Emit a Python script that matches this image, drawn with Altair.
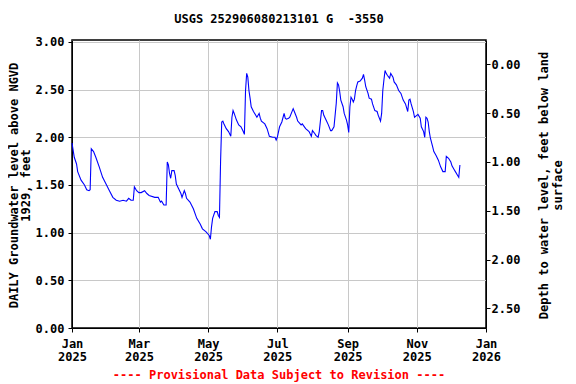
import altair as alt
import pandas as pd

# ---- data (days since 2025-01-01, level in feet) ----
days = [0, 2, 4, 5, 8, 11, 13, 15, 16, 17, 19, 21, 24, 27, 30, 33, 36, 39, 42, 45,
        48, 50, 52, 54, 55, 57, 59, 61, 64, 66, 68, 73, 76, 78, 79, 81, 83, 84, 85, 86,
        87, 88, 90, 91, 92, 94, 96, 97, 99, 100, 101, 104, 107, 110, 113, 115, 118, 121, 122, 123,
        124, 126, 128, 129, 130, 131, 132, 133, 134, 136, 138, 140, 141, 142, 143, 145, 147, 149, 151, 152,
        153, 154, 155, 156, 157, 158, 160, 162, 163, 165, 166, 167, 170, 172, 174, 177, 179, 180, 181, 183,
        185, 187, 188, 189, 191, 192, 195, 196, 198, 199, 202, 203, 206, 209, 211, 212, 214, 215, 217, 218,
        220, 221, 222, 224, 226, 228, 229, 231, 233, 234, 235, 236, 237, 239, 240, 242, 243, 244, 245, 246,
        247, 248, 249, 250, 251, 252, 254, 256, 257, 258, 259, 261, 262, 264, 265, 267, 269, 270, 272, 273,
        274, 275, 276, 277, 278, 280, 281, 283, 284, 286, 288, 290, 292, 294, 296, 297, 298, 299, 301, 302,
        304, 305, 307, 308, 310, 311, 312, 313, 314, 315, 316, 318, 319, 321, 323, 325, 327, 329, 330, 332,
        334, 335, 337, 338, 340, 341, 342]
levels = [1.94, 1.79, 1.72, 1.64, 1.55, 1.50, 1.45, 1.44, 1.45, 1.88, 1.85, 1.79, 1.69, 1.58, 1.51, 1.44, 1.37, 1.34, 1.33, 1.34,
          1.33, 1.36, 1.34, 1.34, 1.48, 1.44, 1.42, 1.42, 1.44, 1.41, 1.39, 1.37, 1.37, 1.32, 1.33, 1.29, 1.29, 1.74, 1.71, 1.62,
          1.57, 1.65, 1.65, 1.60, 1.51, 1.46, 1.41, 1.37, 1.44, 1.41, 1.36, 1.32, 1.25, 1.15, 1.09, 1.04, 1.01, 0.97, 0.93, 1.06,
          1.15, 1.22, 1.22, 1.18, 1.16, 1.75, 2.16, 2.17, 2.14, 2.09, 2.06, 2.01, 2.21, 2.28, 2.25, 2.18, 2.13, 2.11, 2.06, 2.03,
          2.49, 2.67, 2.63, 2.49, 2.41, 2.32, 2.27, 2.23, 2.21, 2.25, 2.20, 2.17, 2.14, 2.09, 2.01, 2.00, 2.00, 1.97, 2.00, 2.11,
          2.16, 2.25, 2.20, 2.19, 2.20, 2.21, 2.30, 2.27, 2.21, 2.17, 2.13, 2.14, 2.09, 2.06, 2.01, 2.07, 2.04, 2.02, 2.00, 2.06,
          2.28, 2.28, 2.23, 2.18, 2.13, 2.07, 2.07, 2.11, 2.36, 2.57, 2.55, 2.48, 2.39, 2.32, 2.25, 2.18, 2.13, 2.05, 2.32, 2.42,
          2.40, 2.37, 2.40, 2.49, 2.54, 2.58, 2.59, 2.62, 2.66, 2.60, 2.53, 2.46, 2.41, 2.40, 2.35, 2.28, 2.27, 2.23, 2.17, 2.25,
          2.49, 2.60, 2.70, 2.67, 2.65, 2.62, 2.67, 2.63, 2.58, 2.55, 2.49, 2.46, 2.39, 2.35, 2.27, 2.39, 2.40, 2.35, 2.27, 2.21,
          2.23, 2.24, 2.20, 2.11, 2.06, 2.00, 2.21, 2.20, 2.16, 2.06, 1.99, 1.90, 1.85, 1.81, 1.76, 1.69, 1.64, 1.64, 1.80, 1.78,
          1.74, 1.70, 1.66, 1.64, 1.60, 1.58, 1.71]

title_text = "USGS 252906080213101 G \u00a0-3550"
footer_text = "---- Provisional Data Subject to Revision ----"
left_title = ["DAILY Groundwater level above NGVD", "1929, feet"]
right_title = ["Depth to water level, feet below land", "surface"]
left_ticks = [0.0, 0.5, 1.0, 1.5, 2.0, 2.5, 3.0]
right_ticks = [0.0, 0.5, 1.0, 1.5, 2.0, 2.5]
tick_months = [(2025, 1), (2025, 3), (2025, 5), (2025, 7), (2025, 9), (2025, 11), (2026, 1)]

dates = (pd.Timestamp("2025-01-01") + pd.to_timedelta(days, unit="D")).strftime("%Y-%m-%d")
df = pd.DataFrame({"date": list(dates), "level": levels})

FONT = "DejaVu Sans Mono"
W, H = 414, 288
TOTAL_W, TOTAL_H = 560, 376

x_scale = alt.Scale(
    type="utc",
    domain=[alt.DateTime(year=2025, month=1, date=1, utc=True),
            alt.DateTime(year=2026, month=1, date=1, utc=True)],
)
x_values = [alt.DateTime(year=y, month=m, date=1, utc=True) for y, m in tick_months]

common_axis = dict(
    labelFont=FONT, labelFontSize=12, labelFontWeight="bold", labelColor="black",
    titleFont=FONT, titleFontSize=12, titleFontWeight="bold", titleColor="black",
    tickColor="black", tickSize=4, domainColor="black",
)

line = alt.Chart(df).mark_line(color="#0000ff", strokeWidth=1.1).encode(
    x=alt.X("date:T", scale=x_scale,
            axis=alt.Axis(values=x_values, title=None, grid=True, gridColor="#c8c8c8",
                          labelExpr="[utcFormat(datum.value, '%b'), utcFormat(datum.value, '%Y')]",
                          labelLineHeight=13, labelPadding=6, labelFlush=False,
                          labelOverlap=False, **common_axis)),
    y=alt.Y("level:Q", scale=alt.Scale(domain=[0, 3.02], nice=False, zero=False),
            axis=alt.Axis(values=left_ticks, format=".2f", title=left_title,
                          grid=True, gridColor="#c8c8c8", labelPadding=4,
                          titleAngle=270, titleX=-59, titleY=145,
                          titleBaseline="middle", titleAlign="center", titleLineHeight=12,
                          **common_axis)),
)

depth_df = pd.DataFrame({"depth": right_ticks})
right = alt.Chart(depth_df).mark_point(opacity=0).encode(
    y=alt.Y("depth:Q", scale=alt.Scale(domain=[-0.249, 2.70], reverse=True, nice=False, zero=False),
            axis=alt.Axis(orient="right", values=right_ticks, format=".2f", title=right_title,
                          grid=False, labelPadding=1,
                          titleAngle=270, titleX=57, titleY=145,
                          titleBaseline="middle", titleAlign="center", titleLineHeight=14,
                          **common_axis)),
)

title = alt.Chart(pd.DataFrame({"t": [title_text]})).mark_text(
    font=FONT, fontSize=12, fontWeight="bold", color="black", align="center", baseline="middle"
).encode(text="t:N", x=alt.value(W / 2), y=alt.value(-21))

footer = alt.Chart(pd.DataFrame({"t": [footer_text]})).mark_text(
    font=FONT, fontSize=12, fontWeight="bold", color="#ff0000", align="center", baseline="middle"
).encode(text="t:N", x=alt.value(W / 2), y=alt.value(H + 47))

chart = alt.layer(line, right, title, footer).resolve_scale(y="independent").properties(
    width=W, height=H,
    autosize=alt.AutoSizeParams(type="none"),
    padding={"left": 64, "top": 32, "right": TOTAL_W - 64 - W, "bottom": TOTAL_H - 32 - H},
    background="white",
).configure_view(stroke="black", strokeWidth=1.5)

chart.save("out.html", embed_options={"renderer": "svg", "actions": False})
